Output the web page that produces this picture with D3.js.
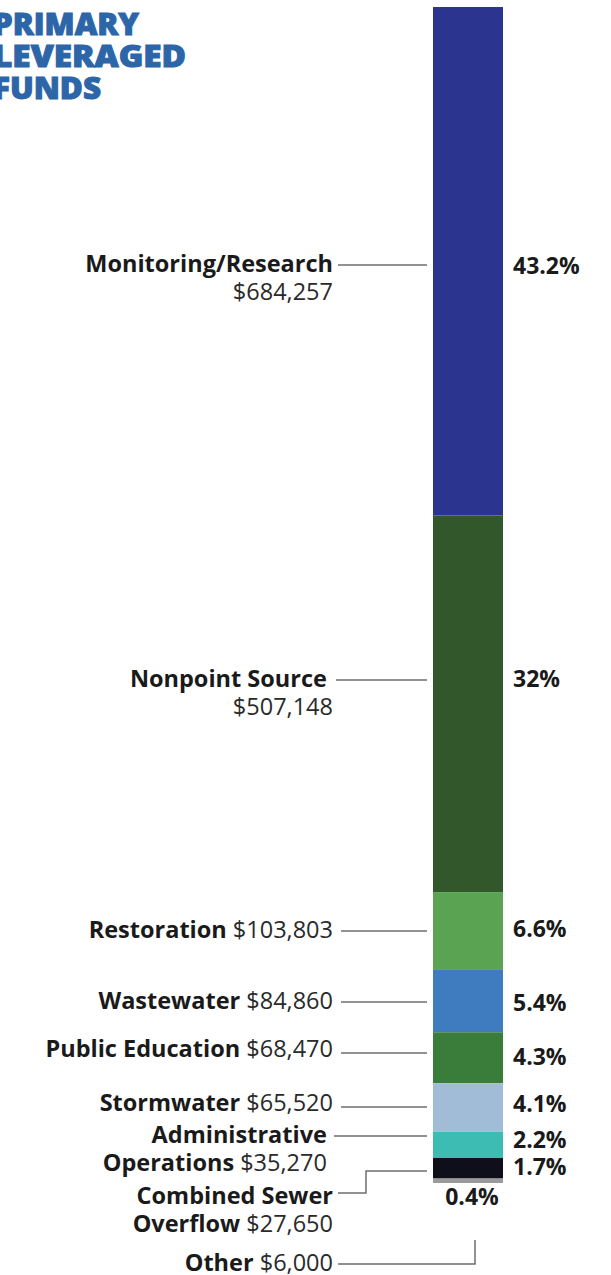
<!DOCTYPE html>
<html>
<head>
<meta charset="utf-8">
<script src="https://cdn.jsdelivr.net/npm/d3@7"></script>
<style>
  html, body { margin: 0; padding: 0; background: #ffffff; }
  svg { display: block; }
</style>
</head>
<body>
<div id="chart"></div>
<script>
// ---- DATA ----
const categories = ["Monitoring/Research", "Nonpoint Source", "Restoration", "Wastewater",
  "Public Education", "Stormwater", "Administrative Operations", "Combined Sewer Overflow", "Other"];
const amounts = [684257, 507148, 103803, 84860, 68470, 65520, 35270, 27650, 6000];
const percentLabels = ["43.2%", "32%", "6.6%", "5.4%", "4.3%", "4.1%", "2.2%", "1.7%", "0.4%"];
const titleLines = ["PRIMARY", "LEVERAGED", "FUNDS"];

// ---- STYLE / LAYOUT ----
const colors = ["#2b3590", "#31572a", "#5aa352", "#3f7bbf", "#3a7d3a", "#a1bcd6", "#3dbcb4", "#0e0f1b", "#9a9a9a"];
// how the label text of each category is split into lines: [bold part, regular part] per line
const labelLines = [
  [["Monitoring/Research", ""], ["", "$684,257"]],
  [["Nonpoint Source ", ""], ["", "$507,148"]],
  [["Restoration", " $103,803"]],
  [["Wastewater", " $84,860"]],
  [["Public Education", " $68,470"]],
  [["Stormwater", " $65,520"]],
  [["Administrative ", ""], ["Operations", " $35,270 "]],
  [["Combined Sewer", ""], ["Overflow", " $27,650"]],
  [["Other", " $6,000"]]
];
const labelY = [264, 679, 930, 1001, 1049, 1103, 1135, 1196, 1263]; // y of first label line (center)
const pctY = [266, 679, 929, 1003, 1057, 1104, 1140, 1167, 1197];

const W = 611, H = 1275;
const barX0 = 433, barX1 = 503, barTop = 7, barBottom = 1183;
const textRight = 333;

const svg = d3.select("#chart").append("svg").attr("width", W).attr("height", H);

// title
svg.append("g").selectAll("text").data(titleLines).join("text")
  .attr("x", -7)
  .attr("y", (d, i) => 35 + i * 32)
  .attr("font-family", "'Open Sans', sans-serif")
  .attr("font-weight", 800)
  .attr("font-size", 30)
  .attr("fill", "#2c66a8")
  .attr("stroke", "#2c66a8")
  .attr("stroke-width", 1)
  .attr("textLength", (d, i) => [146, 193, 108][i])
  .attr("lengthAdjust", "spacingAndGlyphs")
  .text(d => d);

// stacked bar
const total = d3.sum(amounts);
const cum = [0];
amounts.forEach((v, i) => cum.push(cum[i] + v));
const y = d3.scaleLinear().domain([0, total]).range([barTop, barBottom]);

svg.append("g").selectAll("rect").data(amounts).join("rect")
  .attr("x", barX0)
  .attr("width", barX1 - barX0)
  .attr("y", (d, i) => y(cum[i]))
  .attr("height", (d, i) => y(cum[i + 1]) - y(cum[i]))
  .attr("fill", (d, i) => colors[i]);

// percentage labels
svg.append("g").selectAll("text").data(percentLabels).join("text")
  .attr("x", (d, i) => i === 8 ? 472 : 513)
  .attr("y", (d, i) => pctY[i])
  .attr("dy", "0.35em")
  .attr("text-anchor", (d, i) => i === 8 ? "middle" : "start")
  .attr("font-family", "'Open Sans', sans-serif")
  .attr("font-weight", 700)
  .attr("font-size", 23)
  .attr("fill", "#1a1a1a")
  .text(d => d);

// category labels
const lineGap = 28;
const lg = svg.append("g").attr("font-family", "'Open Sans', sans-serif").attr("font-size", 23.5);
categories.forEach((c, i) => {
  labelLines[i].forEach((ln, j) => {
    const t = lg.append("text")
      .attr("x", textRight)
      .attr("y", labelY[i] + j * lineGap)
      .attr("dy", "0.35em")
      .attr("text-anchor", "end")
      .attr("xml:space", "preserve")
      .style("white-space", "pre");
    if (ln[0]) t.append("tspan").attr("font-weight", 700).attr("fill", "#1a1a1a").text(ln[0]);
    if (ln[1]) t.append("tspan").attr("font-weight", 400).attr("fill", "#2a2a2a").text(ln[1]);
  });
});

// leader lines
const leaders = [
  [[338, 265], [427, 265]],
  [[336, 680], [427, 680]],
  [[341, 931], [427, 931]],
  [[341, 1002], [427, 1002]],
  [[341, 1053], [427, 1053]],
  [[341, 1107], [427, 1107]],
  [[334, 1136], [427, 1136]],
  [[338, 1193], [366, 1193], [366, 1171], [427, 1171]],
  [[338, 1264], [475, 1264], [475, 1240]]
];
svg.append("g").selectAll("path").data(leaders).join("path")
  .attr("d", d => d3.line()(d))
  .attr("fill", "none")
  .attr("stroke", "#6e6e6e")
  .attr("stroke-width", 1.5);
</script>
</body>
</html>
